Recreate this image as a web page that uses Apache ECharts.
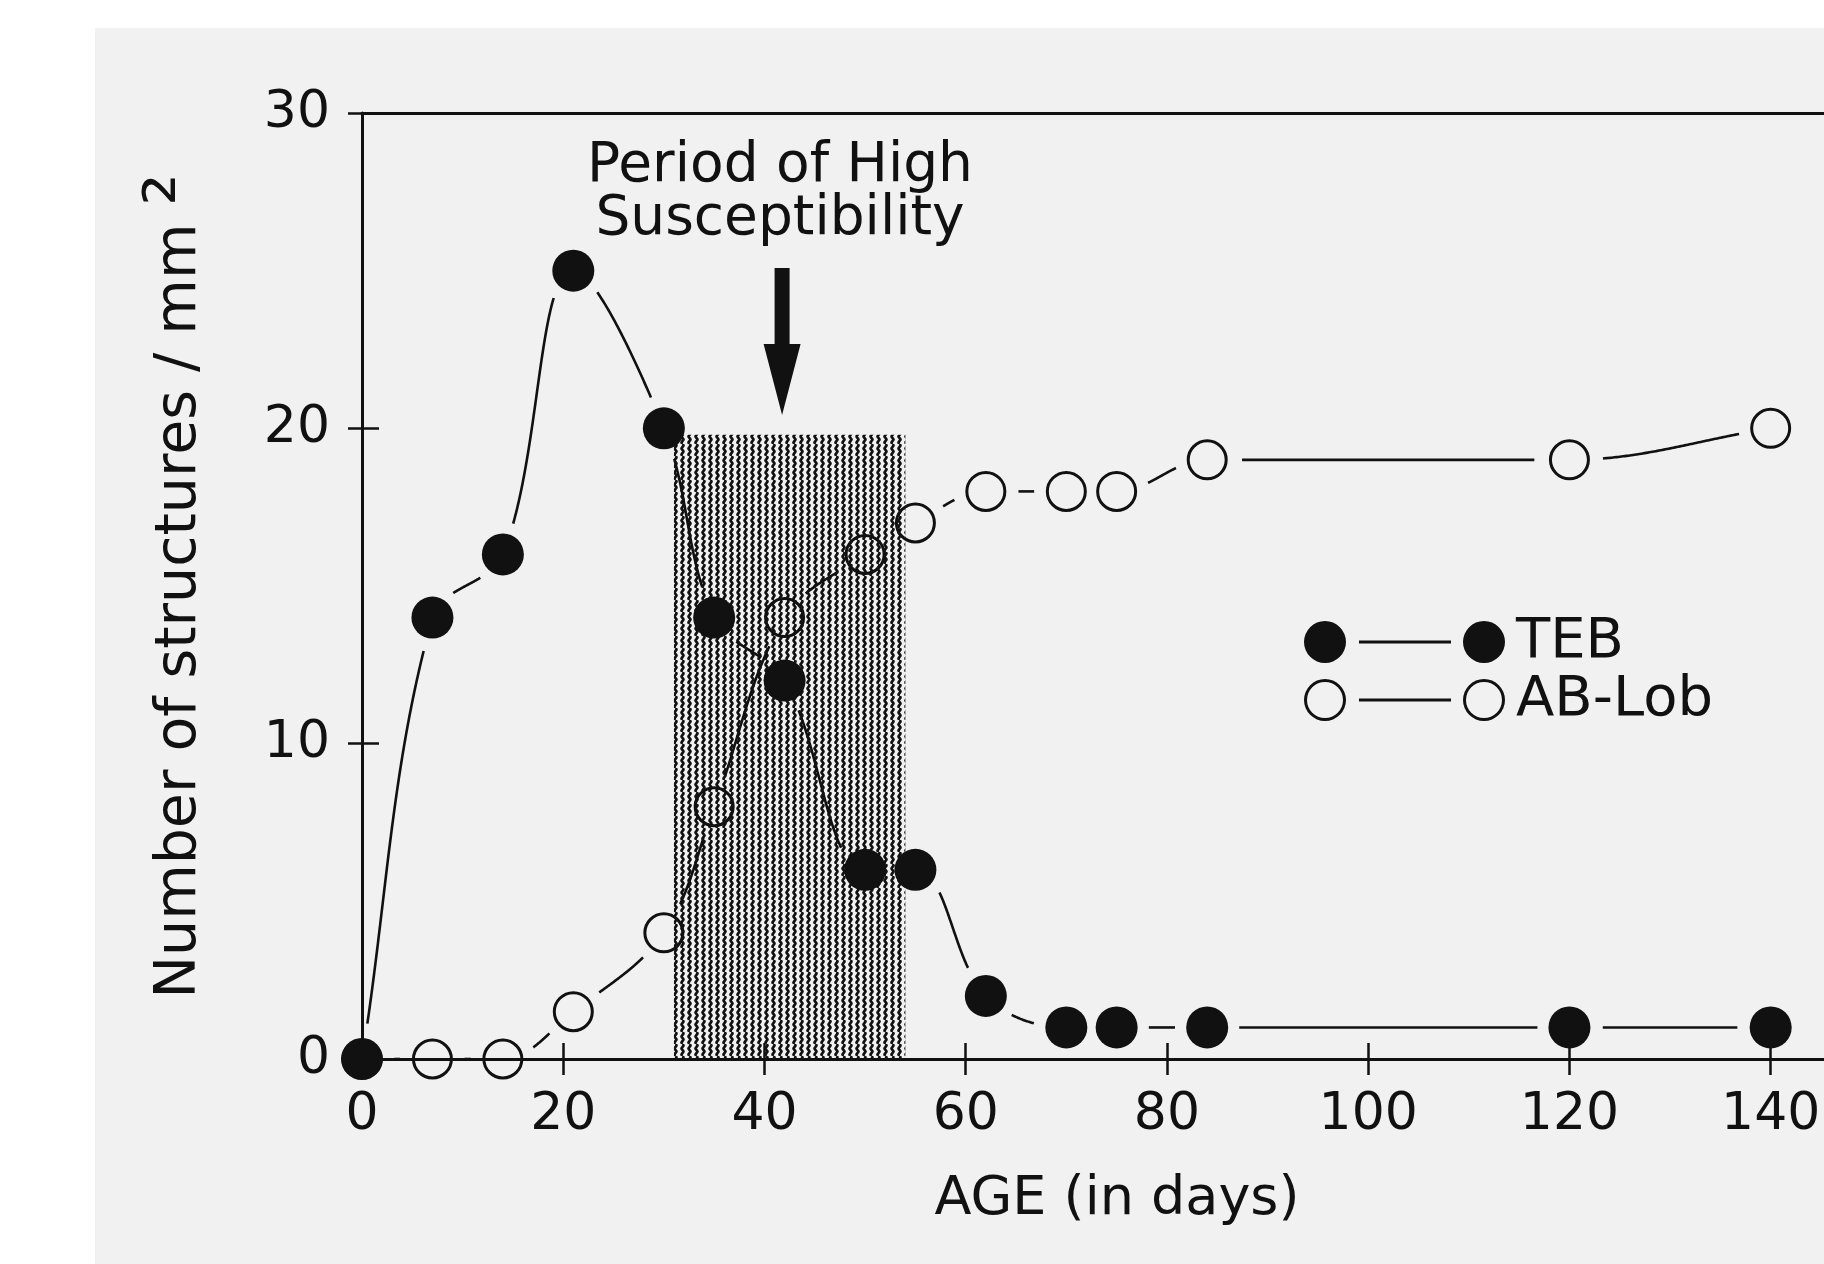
<!DOCTYPE html>
<html><head><meta charset="utf-8">
<script src="https://cdn.jsdelivr.net/npm/echarts@6/dist/echarts.min.js"></script>
<style>
html,body{margin:0;padding:0;background:#fff}
#bg{position:absolute;left:95px;top:28px;width:1729px;height:1236px;background:#f1f1f1}
#c{position:absolute;left:0;top:0;width:1824px;height:1264px}
</style>
</head><body><div id="bg"></div><div id="c"></div>
<script>
// ---- data ----
const tebAge = [0, 7, 14, 21, 30, 35, 42, 50, 55, 62, 70, 75, 84, 120, 140];
const tebVal = [0, 14, 16, 25, 20, 14, 12, 6, 6, 2, 1, 1, 1, 1, 1];
const lobAge = [0, 7, 14, 21, 30, 35, 42, 50, 55, 62, 70, 75, 84, 120, 140];
const lobVal = [0, 0, 0, 1.5, 4, 8, 14, 16, 17, 18, 18, 18, 19, 19, 20];
const xTicks = [0, 20, 40, 60, 80, 100, 120, 140];
const yTicks = [0, 10, 20, 30];
const shadeAge = [31, 54];
const shadeTop = 19.8;
const arrowAt = [41.75, 22.75];
const periodText = 'Period of High\nSusceptibility';

const FONT = 'DejaVu Sans';
const INK = '#111';

// hatch pattern (vertical wavy lines)
const pc = document.createElement('canvas');
pc.width = 7; pc.height = 12;
const g = pc.getContext('2d');
g.strokeStyle = INK; g.lineWidth = 2.6;
g.beginPath();
for (let y = 0; y <= 12; y += 0.5) {
  const x = 3.5 + 1.0 * Math.sin(2 * Math.PI * y / 6);
  if (y === 0) g.moveTo(x, y); else g.lineTo(x, y);
}
g.stroke();

function segRenderer(xs, ys, radius) {
  const n = xs.length;
  return function (params, api) {
    const i = params.dataIndex;
    if (i >= n - 1) return null;
    const pt = k => { k = Math.max(0, Math.min(n - 1, k)); return api.coord([xs[k], ys[k]]); };
    const p0 = pt(i - 1), p1 = pt(i), p2 = pt(i + 1), p3 = pt(i + 2);
    const d = (a, b) => Math.hypot(a[0] - b[0], a[1] - b[1]);
    const d01 = d(p0, p1), d12 = d(p1, p2), d23 = d(p2, p3);
    const f = 0.18;
    const ext = k => k > 0 && k < n - 1 && (ys[k] - ys[k - 1]) * (ys[k + 1] - ys[k]) <= 0;
    const s1 = (d01 + d12) > 0 ? 2 * d12 / (d01 + d12) : 1;
    const s2 = (d12 + d23) > 0 ? 2 * d12 / (d12 + d23) : 1;
    const t1 = [(p2[0] - p0[0]) * f * s1, ext(i) ? 0 : (p2[1] - p0[1]) * f * s1];
    const t2 = [(p3[0] - p1[0]) * f * s2, ext(i + 1) ? 0 : (p3[1] - p1[1]) * f * s2];
    const c1 = [p1[0] + t1[0], p1[1] + t1[1]];
    const c2 = [p2[0] - t2[0], p2[1] - t2[1]];
    const pts = [];
    for (let s = 0; s <= 120; s++) {
      const t = s / 120, u = 1 - t;
      const x = u*u*u*p1[0] + 3*u*u*t*c1[0] + 3*u*t*t*c2[0] + t*t*t*p2[0];
      const y = u*u*u*p1[1] + 3*u*u*t*c1[1] + 3*u*t*t*c2[1] + t*t*t*p2[1];
      if (Math.hypot(x - p1[0], y - p1[1]) > radius && Math.hypot(x - p2[0], y - p2[1]) > radius) pts.push([x, y]);
    }
    if (pts.length < 2) return null;
    return { type: 'polyline', silent: true, shape: { points: pts }, style: { stroke: INK, lineWidth: 2.6, fill: null } };
  };
}

const filledIcon = 'path://M0,21 A21,21 0 1,1 42,21 A21,21 0 1,1 0,21 Z M55,19.5 L147,19.5 L147,22.5 L55,22.5 Z M159,21 A21,21 0 1,1 201,21 A21,21 0 1,1 159,21 Z';
const openIcon = 'path://M0,21 A21,21 0 1,1 42,21 A21,21 0 1,1 0,21 Z M3,21 A18,18 0 1,0 39,21 A18,18 0 1,0 3,21 Z M55,19.5 L147,19.5 L147,22.5 L55,22.5 Z M159,21 A21,21 0 1,1 201,21 A21,21 0 1,1 159,21 Z M162,21 A18,18 0 1,0 198,21 A18,18 0 1,0 162,21 Z';

const chart = echarts.init(document.getElementById('c'), null, { renderer: 'canvas' });
const xCommon = { type: 'value', min: 0, max: 145.3, gridIndex: 0 };
const yCommon = { type: 'value', min: 0, max: 30, interval: 10 };
chart.setOption({
  animation: false,
  backgroundColor: 'transparent',
  textStyle: { fontFamily: FONT, color: INK },
  grid: { left: 362, right: 0, top: 113, bottom: 205, containLabel: false, outerBoundsMode: 'none' },
  xAxis: [
    Object.assign({}, xCommon, {
      position: 'bottom',
      axisLine: { show: true, lineStyle: { color: INK, width: 3 } },
      axisTick: { show: true, inside: false, length: 16, customValues: xTicks, lineStyle: { color: INK, width: 2.5 } },
      axisLabel: { show: true, customValues: xTicks, margin: 30, fontSize: 52, lineHeight: 52, fontFamily: FONT, color: INK },
      splitLine: { show: false },
      name: 'AGE (in days)', nameLocation: 'middle', nameGap: 111,
      nameTextStyle: { fontSize: 54, lineHeight: 60, fontFamily: FONT, color: INK, padding: [0, 0, 0, 48] }
    }),
    Object.assign({}, xCommon, {
      position: 'bottom',
      axisLine: { show: false },
      axisTick: { show: true, inside: true, length: 16, customValues: xTicks, lineStyle: { color: INK, width: 2.5 } },
      axisLabel: { show: false }, splitLine: { show: false }
    }),
    Object.assign({}, xCommon, {
      position: 'top',
      axisLine: { show: true, lineStyle: { color: INK, width: 3 } },
      axisTick: { show: false }, axisLabel: { show: false }, splitLine: { show: false }
    })
  ],
  yAxis: [
    Object.assign({}, yCommon, {
      position: 'left',
      axisLine: { show: true, lineStyle: { color: INK, width: 3 } },
      axisTick: { show: true, inside: false, length: 14, customValues: yTicks, lineStyle: { color: INK, width: 2.5 } },
      axisLabel: { show: true, customValues: yTicks, margin: 32, fontSize: 52, fontFamily: FONT, color: INK },
      splitLine: { show: false },
      name: '{n|Number of structures / mm }{s|\u00b2}', nameLocation: 'middle', nameRotate: 90, nameGap: 142,
      nameTextStyle: {
        rich: {
          n: { fontSize: 57, fontFamily: FONT, color: INK },
          s: { fontSize: 80, fontFamily: FONT, color: INK }
        }
      }
    }),
    Object.assign({}, yCommon, {
      position: 'left',
      axisLine: { show: false },
      axisTick: { show: true, inside: true, length: 17, customValues: [10, 20], lineStyle: { color: INK, width: 2.5 } },
      axisLabel: { show: false }, splitLine: { show: false }
    })
  ],
  legend: {
    orient: 'vertical', left: 1304, top: 614, padding: 0, itemGap: 2,
    itemWidth: 201, itemHeight: 42, selectedMode: false,
    textStyle: { fontSize: 56, lineHeight: 42, fontFamily: FONT, color: INK, padding: [0, 0, 0, 6] },
    data: [
      { name: 'TEB', icon: filledIcon, itemStyle: { color: INK, borderWidth: 0, opacity: 1 } },
      { name: 'AB-Lob', icon: openIcon, itemStyle: { color: INK, borderWidth: 0, opacity: 1 } }
    ]
  },
  graphic: [{
    type: 'text', x: 780, y: 140, z: 10,
    style: { text: periodText, align: 'center', verticalAlign: 'top', font: '55px "DejaVu Sans"', lineHeight: 53, fill: INK }
  }],
  series: [
    {
      name: 'period', type: 'line', z: 1, xAxisIndex: 0, yAxisIndex: 0,
      data: [[shadeAge[0], 0]], symbol: 'none', lineStyle: { width: 0 }, silent: true,
      markArea: {
        silent: true,
        itemStyle: { color: { image: pc, repeat: 'repeat' } },
        data: [[{ xAxis: shadeAge[0], yAxis: 0 }, { xAxis: shadeAge[1], yAxis: shadeTop }]]
      },
      markPoint: {
        silent: true,
        symbol: 'path://M11,0 L26,0 L26,76 L37,76 L18.5,147 L0,76 L11,76 Z',
        symbolSize: [37, 147],
        itemStyle: { color: INK, opacity: 1 },
        label: { show: false },
        data: [{ coord: arrowAt }]
      }
    },
    {
      name: 'TEB line', type: 'custom', z: 3, clip: false, xAxisIndex: 0, yAxisIndex: 0,
      data: tebAge.map((a, i) => [a, tebVal[i]]), encode: { x: 0, y: 1 },
      renderItem: segRenderer(tebAge, tebVal, 32)
    },
    {
      name: 'AB-Lob line', type: 'custom', z: 3, clip: false, xAxisIndex: 0, yAxisIndex: 0,
      data: lobAge.map((a, i) => [a, lobVal[i]]), encode: { x: 0, y: 1 },
      renderItem: segRenderer(lobAge, lobVal, 32)
    },
    {
      name: 'AB-Lob', type: 'scatter', z: 5, xAxisIndex: 0, yAxisIndex: 0,
      symbol: 'circle', symbolSize: 38, silent: true,
      itemStyle: { color: 'rgba(0,0,0,0)', borderColor: INK, borderWidth: 3, opacity: 1 },
      data: lobAge.map((a, i) => [a, lobVal[i]])
    },
    {
      name: 'TEB', type: 'scatter', z: 6, xAxisIndex: 0, yAxisIndex: 0,
      symbol: 'circle', symbolSize: 42, silent: true,
      itemStyle: { color: INK, opacity: 1 },
      data: tebAge.map((a, i) => [a, tebVal[i]])
    }
  ]
});
</script>
</body></html>
